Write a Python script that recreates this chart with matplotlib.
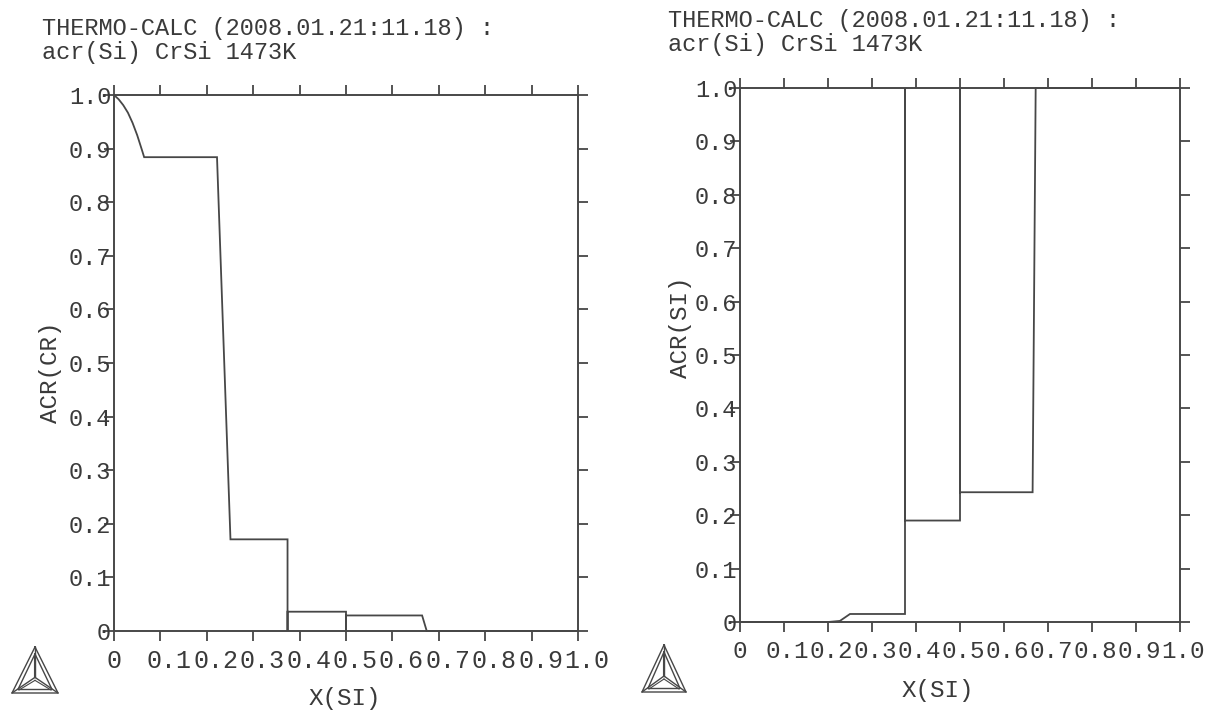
import numpy as np
import matplotlib.pyplot as plt
from matplotlib import transforms

# Cr activity across the Cr-Si system at 1473 K
x_cr = [0.0, 0.01, 0.02, 0.03, 0.04, 0.05, 0.06, 0.065, 0.222, 0.251,
        0.374, 0.374, 0.374, 0.5, 0.5, 0.5, 0.664, 0.674, 1.0]
acr_cr = [1.0, 0.992, 0.981, 0.967, 0.948, 0.925, 0.898, 0.884, 0.884, 0.171,
          0.171, 0.0, 0.036, 0.036, 0.0, 0.029, 0.029, 0.0, 0.0]

# Si activity
x_si = [0.0, 0.2, 0.227, 0.25, 0.375, 0.375, 0.375, 0.5, 0.5, 0.5,
        0.665, 0.672, 1.0]
acr_si = [0.0, 0.0, 0.002, 0.015, 0.015, 1.0, 0.19, 0.19, 1.0, 0.243,
          0.243, 1.0, 1.0]

ticks = [0, 0.1, 0.2, 0.3, 0.4, 0.5, 0.6, 0.7, 0.8, 0.9, 1.0]
tick_labels = ["0", "0.1", "0.2", "0.3", "0.4", "0.5", "0.6", "0.7", "0.8", "0.9", "1.0"]
title1 = "THERMO-CALC (2008.01.21:11.18) :"
title2 = "acr(Si) CrSi 1473K"

W, H = 1208, 711
FONT = "Liberation Mono"
LC = "#474747"
TC = "#3a3a3a"

fig = plt.figure(figsize=(W / 100, H / 100), dpi=100)
fig.patch.set_facecolor("white")


def px_axes(l, t, r, b):
    return fig.add_axes([l / W, 1 - b / H, (r - l) / W, (b - t) / H])


def ftext(x, y, s, **kw):
    kw.setdefault("family", FONT)
    kw.setdefault("color", TC)
    fig.text(x / W, 1 - y / H, s, **kw)


def panel(box, xs, ys, ylab, ylab_xy, xlab_xy, title_xy, lab_y, lab_dx, lab_fs):
    ax = px_axes(*box)
    ax.plot(xs, ys, color=LC, lw=1.3, clip_on=False, solid_joinstyle="miter")
    ax.set_xlim(0, 1)
    ax.set_ylim(0, 1)
    ax.set_xticks(ticks)
    ax.set_yticks(ticks)
    ax.set_xticklabels([])
    ax.set_yticklabels(tick_labels, family=FONT, fontsize=17, color=TC)
    ax.tick_params(direction="out", length=7.5, width=1.3, color=LC,
                   top=True, right=True)
    ax.tick_params(axis="y", pad=-5.5)
    for s in ax.spines.values():
        s.set_color(LC)
        s.set_linewidth(1.4)

    # x tick labels placed under the ticks, nudged right as in the plotter output
    bottom_px = box[3]
    for t, lab in zip(ticks, tick_labels):
        dx = 0 if t == 0 else lab_dx
        tr = transforms.offset_copy(ax.get_xaxis_transform(), fig=fig,
                                    x=dx, y=-(lab_y - bottom_px), units="dots")
        ax.text(t, 0, lab, transform=tr, ha="center", va="center",
                family=FONT, fontsize=lab_fs, color=TC, clip_on=False)

    ftext(*ylab_xy, ylab, rotation=90, ha="center", va="center", fontsize=17.5)
    ftext(*xlab_xy, "X(SI)", ha="center", va="center", fontsize=17.5)
    ftext(title_xy[0], title_xy[1], title1, ha="left", va="center", fontsize=17)
    ftext(title_xy[0], title_xy[1] + 24, title2, ha="left", va="center", fontsize=17)
    return ax


panel((114, 95, 578, 631), x_cr, acr_cr, "ACR(CR)", (50, 372), (345, 698),
      (42, 28), 661, 9, 18)
panel((740, 88, 1180, 622), x_si, acr_si, "ACR(SI)", (680, 327), (938, 690),
      (668, 21), 651, 3, 17.5)

# Thermo-Calc triangle logo
over = fig.add_axes([0, 0, 1, 1], zorder=-1)
over.set_xlim(0, W)
over.set_ylim(H, 0)
over.axis("off")


def logo(cx, top, bot, half):
    cy = top + (bot - top) * 0.66
    apex = (cx, top)
    bl = (cx - half, bot)
    br = (cx + half, bot)
    for inset in (0, 3.5):
        a = (cx, top + inset * 2)
        l = (cx - half + inset * 1.7, bot - inset)
        r = (cx + half - inset * 1.7, bot - inset)
        over.plot([a[0], l[0], r[0], a[0]], [a[1], l[1], r[1], a[1]],
                  color=LC, lw=1.0)
    for v in (apex, bl, br):
        over.plot([cx, v[0]], [cy, v[1]], color=LC, lw=1.0)
    # inner spokes
    over.plot([cx - 1.5, cx - 1.5], [top + 8, cy], color=LC, lw=0.8)
    over.plot([cx, cx - half + 7], [cy + 3, bot - 3], color=LC, lw=0.8)
    over.plot([cx, cx + half - 7], [cy + 3, bot - 3], color=LC, lw=0.8)


logo(35, 647, 693, 23)
logo(664, 645, 692, 22)

fig.savefig("out.png", dpi=100, facecolor="white")
